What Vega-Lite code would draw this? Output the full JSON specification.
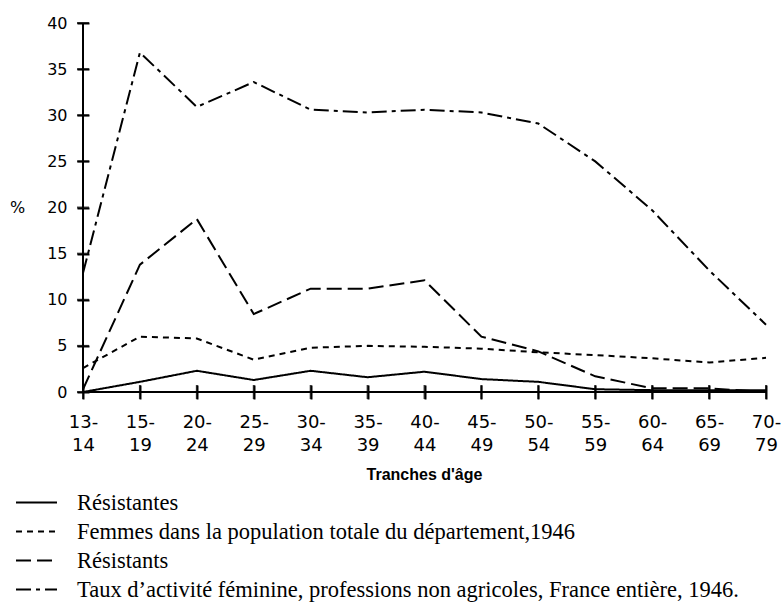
{
  "$schema": "https://vega.github.io/schema/vega-lite/v6.json",
  "width": 683,
  "height": 369,
  "autosize": {"type": "none"},
  "padding": {"left": 83, "top": 23, "right": 15, "bottom": 223},
  "background": "white",
  "config": {"view": {"stroke": null}, "axis": {"grid": false}},
  "datasets": {
    "yticks": [{"tick": 0}, {"tick": 5}, {"tick": 10}, {"tick": 15}, {"tick": 20}, {"tick": 25}, {"tick": 30}, {"tick": 35}, {"tick": 40}]
  },
  "data": {
    "values": [
      {"age": "13-14", "series": "Résistantes", "value": 0},
      {"age": "15-19", "series": "Résistantes", "value": 1.1},
      {"age": "20-24", "series": "Résistantes", "value": 2.3},
      {"age": "25-29", "series": "Résistantes", "value": 1.3},
      {"age": "30-34", "series": "Résistantes", "value": 2.3},
      {"age": "35-39", "series": "Résistantes", "value": 1.6},
      {"age": "40-44", "series": "Résistantes", "value": 2.2},
      {"age": "45-49", "series": "Résistantes", "value": 1.4},
      {"age": "50-54", "series": "Résistantes", "value": 1.1},
      {"age": "55-59", "series": "Résistantes", "value": 0.3},
      {"age": "60-64", "series": "Résistantes", "value": 0.2},
      {"age": "65-69", "series": "Résistantes", "value": 0.2},
      {"age": "70-79", "series": "Résistantes", "value": 0.2},
      {"age": "13-14", "series": "Femmes dans la population totale du département,1946", "value": 2.6},
      {"age": "15-19", "series": "Femmes dans la population totale du département,1946", "value": 6.0},
      {"age": "20-24", "series": "Femmes dans la population totale du département,1946", "value": 5.8},
      {"age": "25-29", "series": "Femmes dans la population totale du département,1946", "value": 3.5},
      {"age": "30-34", "series": "Femmes dans la population totale du département,1946", "value": 4.8},
      {"age": "35-39", "series": "Femmes dans la population totale du département,1946", "value": 5.0},
      {"age": "40-44", "series": "Femmes dans la population totale du département,1946", "value": 4.9},
      {"age": "45-49", "series": "Femmes dans la population totale du département,1946", "value": 4.7},
      {"age": "50-54", "series": "Femmes dans la population totale du département,1946", "value": 4.3},
      {"age": "55-59", "series": "Femmes dans la population totale du département,1946", "value": 4.0},
      {"age": "60-64", "series": "Femmes dans la population totale du département,1946", "value": 3.65},
      {"age": "65-69", "series": "Femmes dans la population totale du département,1946", "value": 3.2},
      {"age": "70-79", "series": "Femmes dans la population totale du département,1946", "value": 3.7},
      {"age": "13-14", "series": "Résistants", "value": 0.3},
      {"age": "15-19", "series": "Résistants", "value": 13.8},
      {"age": "20-24", "series": "Résistants", "value": 18.75},
      {"age": "25-29", "series": "Résistants", "value": 8.45},
      {"age": "30-34", "series": "Résistants", "value": 11.2},
      {"age": "35-39", "series": "Résistants", "value": 11.2},
      {"age": "40-44", "series": "Résistants", "value": 12.1},
      {"age": "45-49", "series": "Résistants", "value": 6.0},
      {"age": "50-54", "series": "Résistants", "value": 4.4},
      {"age": "55-59", "series": "Résistants", "value": 1.7},
      {"age": "60-64", "series": "Résistants", "value": 0.4},
      {"age": "65-69", "series": "Résistants", "value": 0.4},
      {"age": "70-79", "series": "Résistants", "value": 0},
      {"age": "13-14", "series": "Taux d’activité féminine, professions non agricoles, France entière, 1946.", "value": 12.9},
      {"age": "15-19", "series": "Taux d’activité féminine, professions non agricoles, France entière, 1946.", "value": 36.8},
      {"age": "20-24", "series": "Taux d’activité féminine, professions non agricoles, France entière, 1946.", "value": 30.9},
      {"age": "25-29", "series": "Taux d’activité féminine, professions non agricoles, France entière, 1946.", "value": 33.6},
      {"age": "30-34", "series": "Taux d’activité féminine, professions non agricoles, France entière, 1946.", "value": 30.6},
      {"age": "35-39", "series": "Taux d’activité féminine, professions non agricoles, France entière, 1946.", "value": 30.3},
      {"age": "40-44", "series": "Taux d’activité féminine, professions non agricoles, France entière, 1946.", "value": 30.6},
      {"age": "45-49", "series": "Taux d’activité féminine, professions non agricoles, France entière, 1946.", "value": 30.3},
      {"age": "50-54", "series": "Taux d’activité féminine, professions non agricoles, France entière, 1946.", "value": 29.1},
      {"age": "55-59", "series": "Taux d’activité féminine, professions non agricoles, France entière, 1946.", "value": 25.0},
      {"age": "60-64", "series": "Taux d’activité féminine, professions non agricoles, France entière, 1946.", "value": 19.7},
      {"age": "65-69", "series": "Taux d’activité féminine, professions non agricoles, France entière, 1946.", "value": 13.2},
      {"age": "70-79", "series": "Taux d’activité féminine, professions non agricoles, France entière, 1946.", "value": 7.3}
    ]
  },
  "layer": [
    {
      "mark": {"type": "line", "color": "black", "strokeWidth": 2},
      "encoding": {
        "x": {
          "field": "age",
          "type": "ordinal",
          "sort": ["13-14","15-19","20-24","25-29","30-34","35-39","40-44","45-49","50-54","55-59","60-64","65-69","70-79"],
          "scale": {"type": "point", "padding": 0},
          "axis": {
            "title": "Tranches d'âge",
            "domain": false,
            "ticks": true,
            "offset": -7,
            "tickSize": 14,
            "tickWidth": 2,
            "tickColor": "black",
            "labelAngle": 0,
            "labelExpr": "[slice(datum.value,0,3), slice(datum.value,3)]",
            "labelFont": "DejaVu Sans",
            "labelFontSize": 18,
            "labelColor": "black",
            "labelPadding": 14,
            "labelLineHeight": 23,
            "labelBaseline": "top",
            "labelAlign": "center",
            "labelOverlap": false,
            "titleFont": "Liberation Sans",
            "titleFontSize": 16,
            "titleFontWeight": "bold",
            "titleColor": "black",
            "titleX": 341,
            "titleY": 89,
            "titleAlign": "center",
            "titleBaseline": "middle"
          }
        },
        "y": {
          "field": "value",
          "type": "quantitative",
          "scale": {"domain": [0, 40], "nice": false},
          "axis": {
            "title": "%",
            "titleAngle": 0,
            "titleX": -72,
            "titleY": 184,
            "titleAlign": "center",
            "titleBaseline": "middle",
            "titleFont": "DejaVu Sans",
            "titleFontSize": 16,
            "titleFontWeight": "normal",
            "titleColor": "black",
            "values": [0, 5, 10, 15, 20, 25, 30, 35, 40],
            "domain": false,
            "ticks": true,
            "offset": -6,
            "tickSize": 12,
            "tickWidth": 2,
            "tickColor": "black",
            "labelFont": "DejaVu Sans",
            "labelFontSize": 16,
            "labelColor": "black",
            "labelPadding": 10,
            "labelFlush": false,
            "labelOverlap": false
          }
        },
        "strokeDash": {
          "field": "series",
          "type": "nominal",
          "scale": {
            "domain": [
              "Résistantes",
              "Femmes dans la population totale du département,1946",
              "Résistants",
              "Taux d’activité féminine, professions non agricoles, France entière, 1946."
            ],
            "range": [[1, 0], [6, 5], [15, 6], [15, 5, 4, 5]]
          },
          "legend": {
            "orient": "none",
            "legendX": -68,
            "legendY": 465,
            "title": null,
            "direction": "vertical",
            "symbolType": "stroke",
            "symbolSize": 1681,
            "symbolStrokeWidth": 2,
            "symbolStrokeColor": "black",
            "labelFont": "Liberation Serif",
            "labelFontSize": 22.5,
            "labelColor": "black",
            "labelOffset": 19,
            "labelLimit": 760,
            "clipHeight": 29,
            "rowPadding": 0
          }
        }
      }
    },
    {
      "mark": {"type": "rule", "color": "black", "strokeWidth": 2},
      "encoding": {"y": {"datum": 0, "type": "quantitative"}}
    },
    {
      "mark": {"type": "rule", "color": "black", "strokeWidth": 2},
      "encoding": {"x": {"datum": "13-14", "type": "ordinal"}}
    },
    {
      "transform": [{"filter": "datum.series === 'Résistantes'"}],
      "mark": {"type": "tick", "orient": "vertical", "size": 14, "thickness": 2, "color": "black"},
      "encoding": {
        "x": {"field": "age", "type": "ordinal"},
        "y": {"datum": 0, "type": "quantitative"}
      }
    },
    {
      "data": {"name": "yticks"},
      "mark": {"type": "tick", "orient": "horizontal", "size": 12, "thickness": 2, "color": "black"},
      "encoding": {
        "x": {"datum": "13-14", "type": "ordinal"},
        "y": {"field": "tick", "type": "quantitative"}
      }
    }
  ]
}
